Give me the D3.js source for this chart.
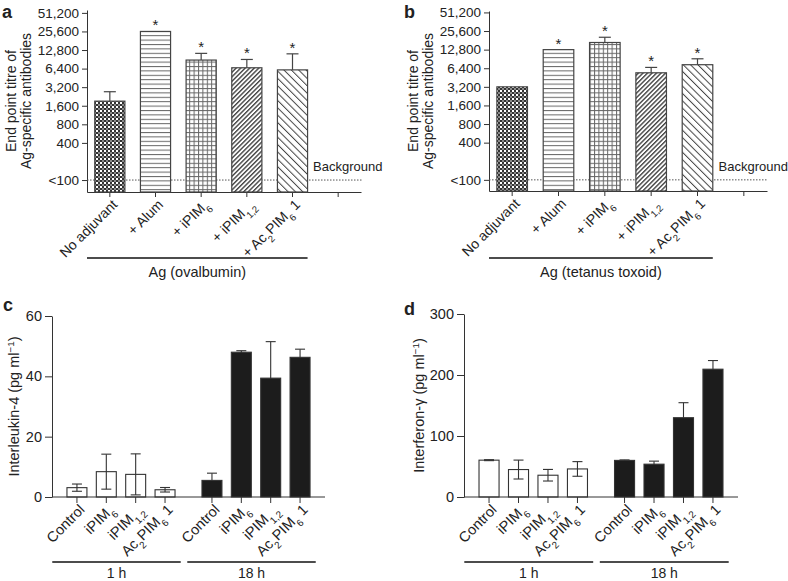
<!DOCTYPE html>
<html>
<head>
<meta charset="utf-8">
<script src="https://cdn.jsdelivr.net/npm/d3@7"></script>
<style>
  body { margin: 0; background: #fff; }
  text { font-family: "Liberation Sans", Arial, sans-serif; fill: #222; }
</style>
</head>
<body>
<svg id="chart" width="788" height="581"></svg>
<script>
// ---- data ----
const titreLabels = ["No adjuvant", "+ Alum", "+ iPIM_{6}", "+ iPIM_{1,2}", "+ Ac_{2}PIM_{6} 1", ""];
const titreTicks = [100, 400, 800, 1600, 3200, 6400, 12800, 25600, 51200];
const ovaTitre = [1900, 25600, 8800, 6600, 6100];
const ovaTitreErr = [2700, null, 11300, 9000, 11100];
const tetTitre = [3200, 12800, 16700, 5400, 7300];
const tetTitreErr = [null, null, 20300, 6600, 9100];
const titreStars = [false, true, true, true, true];
const titrePatterns = ["p-check", "p-hline", "p-grid", "p-diag", "p-back"];

const cytoGroups = ["1 h", "18 h"];
const cytoLabels = ["Control", "iPIM_{6}", "iPIM_{1,2}", "Ac_{2}PIM_{6} 1"];
const il4_1h = [3.1, 8.4, 7.5, 2.4];
const il4_1hErr = [1.2, 5.8, 6.8, 0.75];
const il4_18h = [5.5, 48.0, 39.4, 46.3];
const il4_18hErr = [2.4, 0.5, 12.1, 2.7];
const il4Ticks = [0, 20, 40, 60];
const ifn_1h = [60.4, 45, 35.7, 46];
const ifn_1hErr = [0.8, 15.5, 9.5, 12];
const ifn_18h = [60, 53.8, 130, 209.5];
const ifn_18hErr = [0.8, 5, 24.6, 14.2];
const ifnTicks = [0, 100, 200, 300];

const svg = d3.select("#chart");
const ink = "#333";

// text with _{sub} and ^{sup}
function rich(sel, s) {
  const re = /([_^])\{([^}]*)\}/g;
  let last = 0, m;
  while ((m = re.exec(s))) {
    if (m.index > last) sel.append("tspan").text(s.slice(last, m.index));
    sel.append("tspan")
      .attr("baseline-shift", m[1] === "_" ? "sub" : "super")
      .attr("font-size", "68%")
      .text(m[2]);
    last = re.lastIndex;
  }
  if (last < s.length) sel.append("tspan").text(s.slice(last));
}

// ---- patterns ----
const defs = svg.append("defs");
function pat(id, w, h, rot) {
  const p = defs.append("pattern").attr("id", id)
    .attr("patternUnits", "userSpaceOnUse")
    .attr("width", w).attr("height", h);
  if (rot) p.attr("patternTransform", `rotate(${rot})`);
  p.append("rect").attr("width", w).attr("height", h).attr("fill", "#fff");
  return p;
}
let p = pat("p-check", 4, 4);
p.append("rect").attr("width", 2).attr("height", 2).attr("fill", "#333");
p.append("rect").attr("x", 2).attr("y", 2).attr("width", 2).attr("height", 2).attr("fill", "#333");
p.append("rect").attr("x", 2).attr("y", 0).attr("width", 2).attr("height", 2).attr("fill", "#8a8a8a");
p = pat("p-hline", 4, 4.4);
p.append("line").attr("x1", 0).attr("x2", 4).attr("y1", 0.5).attr("y2", 0.5).attr("stroke", "#666").attr("stroke-width", 1);
p = pat("p-grid", 4.4, 4.4);
p.append("line").attr("x1", 0).attr("x2", 4.4).attr("y1", 0.5).attr("y2", 0.5).attr("stroke", "#666").attr("stroke-width", 1);
p.append("line").attr("x1", 0.5).attr("x2", 0.5).attr("y1", 0).attr("y2", 4.4).attr("stroke", "#666").attr("stroke-width", 1);
p = pat("p-diag", 3.2, 4, 45);
p.append("line").attr("x1", 0.7).attr("x2", 0.7).attr("y1", 0).attr("y2", 4).attr("stroke", "#444").attr("stroke-width", 1.4);
p = pat("p-back", 5.2, 4, -45);
p.append("line").attr("x1", 0.5).attr("x2", 0.5).attr("y1", 0).attr("y2", 4).attr("stroke", "#444").attr("stroke-width", 1);

function panelLetter(x, y, s) {
  svg.append("text").attr("x", x).attr("y", y)
    .attr("font-size", 18).attr("font-weight", "bold").attr("fill", "#000").text(s);
}

// ---- panels a / b ----
function titrePanel(o) {
  const g = svg.append("g");
  const x = d3.scaleBand().domain(d3.range(titreLabels.length))
    .range([o.x0, o.x1]).paddingInner(0.34).paddingOuter(0.17);
  const y = d3.scaleLog().base(2).domain([o.ymin, o.ymax]).range([o.y0, o.y1]);

  const ya = g.append("g").attr("transform", `translate(${o.x0},0)`)
    .call(d3.axisLeft(y).tickValues(titreTicks).tickSize(5).tickPadding(3).tickSizeOuter(0)
      .tickFormat(d => d === 100 ? "<100" : d3.format(",")(d)));
  ya.selectAll("text").attr("font-size", 13.5).attr("fill", "#222")
    .attr("font-family", "Liberation Sans, Arial, sans-serif");
  ya.selectAll("line,path").attr("stroke", ink);

  const xa = g.append("g").attr("transform", `translate(0,${o.y0})`)
    .call(d3.axisBottom(x).tickSize(5).tickSizeOuter(0).tickFormat(""));
  xa.selectAll("line,path").attr("stroke", ink);

  // background line
  g.append("line").attr("x1", o.x0).attr("x2", o.x1 + 1)
    .attr("y1", y(100)).attr("y2", y(100))
    .attr("stroke", "#555").attr("stroke-dasharray", "1.5,1.5");
  g.append("text").attr("x", x(5) - 10).attr("y", y(100) - 9)
    .attr("font-size", 13).text("Background");

  const vals = o.vals.map((v, i) => ({ i, v, e: o.errs[i] }));
  g.selectAll("rect.bar").data(vals).join("rect").attr("class", "bar")
    .attr("x", d => x(d.i)).attr("width", x.bandwidth())
    .attr("y", d => y(d.v)).attr("height", d => o.y0 - y(d.v))
    .attr("fill", d => `url(#${titrePatterns[d.i]})`)
    .attr("stroke", "#444").attr("stroke-width", 1.2);

  const eb = vals.filter(d => d.e != null);
  g.selectAll("line.err").data(eb).join("line").attr("class", "err")
    .attr("x1", d => x(d.i) + x.bandwidth() / 2).attr("x2", d => x(d.i) + x.bandwidth() / 2)
    .attr("y1", d => y(d.v)).attr("y2", d => y(d.e)).attr("stroke", "#444").attr("stroke-width", 1.2);
  g.selectAll("line.cap").data(eb).join("line").attr("class", "cap")
    .attr("x1", d => x(d.i) + x.bandwidth() / 2 - 6).attr("x2", d => x(d.i) + x.bandwidth() / 2 + 6)
    .attr("y1", d => y(d.e)).attr("y2", d => y(d.e)).attr("stroke", "#444").attr("stroke-width", 1.2);

  g.selectAll("text.star").data(vals.filter(d => titreStars[d.i])).join("text").attr("class", "star")
    .attr("x", d => x(d.i) + x.bandwidth() / 2).attr("y", d => y(d.e != null ? d.e : d.v) - 1)
    .attr("text-anchor", "middle").attr("font-size", 15).text("*");

  titreLabels.forEach((s, i) => {
    if (!s) return;
    const t = g.append("text")
      .attr("transform", `translate(${x(i) + x.bandwidth() / 2 + 5},${o.y0 + 10}) rotate(-45)`)
      .attr("text-anchor", "end").attr("dy", "0.35em").attr("font-size", 14);
    rich(t, s);
  });

  g.append("line").attr("x1", o.x0).attr("x2", x(4) + x.bandwidth())
    .attr("y1", 258).attr("y2", 258).attr("stroke", "#111").attr("stroke-width", 1.6);
  g.append("text").attr("x", (o.x0 + x(4) + x.bandwidth()) / 2).attr("y", 277)
    .attr("text-anchor", "middle").attr("font-size", 14.5).text(o.caption);

  const yl = g.append("text").attr("transform", `translate(${o.x0 - 68},${(o.y0 + o.y1) / 2}) rotate(-90)`)
    .attr("text-anchor", "middle").attr("font-size", 14);
  yl.append("tspan").attr("x", 0).attr("dy", "-0.25em").text("End point titre of");
  yl.append("tspan").attr("x", 0).attr("dy", "1.1em").text("Ag-specific antibodies");
}

titrePanel({ x0: 87, x1: 361, y0: 192, y1: 10, ymin: 64, ymax: 57000,
  vals: ovaTitre, errs: ovaTitreErr, caption: "Ag (ovalbumin)" });
titrePanel({ x0: 489, x1: 767, y0: 191, y1: 11, ymin: 66, ymax: 54000,
  vals: tetTitre, errs: tetTitreErr, caption: "Ag (tetanus toxoid)" });

// ---- panels c / d ----
function cytoPanel(o) {
  const g = svg.append("g");
  const gx = d3.scaleBand().domain(cytoGroups).range([o.x0, o.x1])
    .paddingInner(0.13).paddingOuter(0.076);
  const ix = d3.scaleBand().domain(d3.range(cytoLabels.length)).range([0, gx.bandwidth()])
    .paddingInner(0.32).paddingOuter(0.16);
  const y = d3.scaleLinear().domain([0, o.ticks[o.ticks.length - 1]]).range([o.y0, o.y1]);

  const ya = g.append("g").attr("transform", `translate(${o.x0},0)`)
    .call(d3.axisLeft(y).tickValues(o.ticks).tickSize(7).tickPadding(3).tickSizeOuter(0));
  ya.selectAll("text").attr("font-size", 14.5).attr("fill", "#222")
    .attr("font-family", "Liberation Sans, Arial, sans-serif");
  ya.selectAll("line,path").attr("stroke", ink);

  g.append("line").attr("x1", o.x0).attr("x2", o.x1).attr("y1", o.y0).attr("y2", o.y0).attr("stroke", ink);

  const rows = [];
  cytoGroups.forEach((grp, gi) => {
    const v = gi === 0 ? o.v1 : o.v18, e = gi === 0 ? o.e1 : o.e18;
    v.forEach((val, i) => rows.push({ grp, gi, i, v: val, e: e[i],
      cx: gx(grp) + ix(i) + ix.bandwidth() / 2 }));
  });

  g.selectAll("line.tick").data(rows).join("line").attr("class", "tick")
    .attr("x1", d => d.cx).attr("x2", d => d.cx).attr("y1", o.y0).attr("y2", o.y0 + 6).attr("stroke", ink);

  // error bars under bars (lower whisker hidden inside black bars)
  g.selectAll("line.err").data(rows).join("line").attr("class", "err")
    .attr("x1", d => d.cx).attr("x2", d => d.cx)
    .attr("y1", d => y(Math.max(0, d.v - d.e))).attr("y2", d => y(d.v + d.e))
    .attr("stroke", "#333").attr("stroke-width", 1.1);
  g.selectAll("line.capT").data(rows).join("line").attr("class", "capT")
    .attr("x1", d => d.cx - 5).attr("x2", d => d.cx + 5)
    .attr("y1", d => y(d.v + d.e)).attr("y2", d => y(d.v + d.e))
    .attr("stroke", "#333").attr("stroke-width", 1.1);

  g.selectAll("rect.bar").data(rows).join("rect").attr("class", "bar")
    .attr("x", d => d.cx - ix.bandwidth() / 2).attr("width", ix.bandwidth())
    .attr("y", d => y(d.v)).attr("height", d => o.y0 - y(d.v))
    .attr("fill", d => d.gi === 0 ? "none" : "#1c1c1c")
    .attr("stroke", "#333").attr("stroke-width", 1.1);

  g.selectAll("line.capB").data(rows.filter(d => d.gi === 0)).join("line").attr("class", "capB")
    .attr("x1", d => d.cx - 5).attr("x2", d => d.cx + 5)
    .attr("y1", d => y(Math.max(0, d.v - d.e))).attr("y2", d => y(Math.max(0, d.v - d.e)))
    .attr("stroke", "#333").attr("stroke-width", 1.1);

  rows.forEach(d => {
    const t = g.append("text")
      .attr("transform", `translate(${d.cx + 5},${o.y0 + 10}) rotate(-45)`)
      .attr("text-anchor", "end").attr("dy", "0.35em").attr("font-size", 14.5);
    rich(t, cytoLabels[d.i]);
  });

  cytoGroups.forEach(grp => {
    const a = gx(grp) - 10, b = gx(grp) + gx.bandwidth() + 1;
    g.append("line").attr("x1", a).attr("x2", b).attr("y1", 562).attr("y2", 562)
      .attr("stroke", "#111").attr("stroke-width", 1.6);
    g.append("text").attr("x", (a + b) / 2).attr("y", 578)
      .attr("text-anchor", "middle").attr("font-size", 14).text(grp);
  });

  const yl = g.append("text").attr("transform", `translate(${o.ylx},${(o.y0 + o.y1) / 2}) rotate(-90)`)
    .attr("text-anchor", "middle").attr("font-size", 14.5).attr("dy", "0.35em");
  rich(yl, o.ylabel);
}

cytoPanel({ x0: 52, x1: 325, y0: 497, y1: 316, ticks: il4Ticks,
  v1: il4_1h, e1: il4_1hErr, v18: il4_18h, e18: il4_18hErr,
  ylx: 14, ylabel: "Interleukin-4 (pg ml^{\u22121})" });
cytoPanel({ x0: 464, x1: 738, y0: 497, y1: 314, ticks: ifnTicks,
  v1: ifn_1h, e1: ifn_1hErr, v18: ifn_18h, e18: ifn_18hErr,
  ylx: 419, ylabel: "Interferon-\u03b3 (pg ml^{\u22121})" });

panelLetter(2, 18, "a");
panelLetter(404, 18, "b");
panelLetter(3, 311, "c");
panelLetter(404, 315, "d");
</script>
</body>
</html>
